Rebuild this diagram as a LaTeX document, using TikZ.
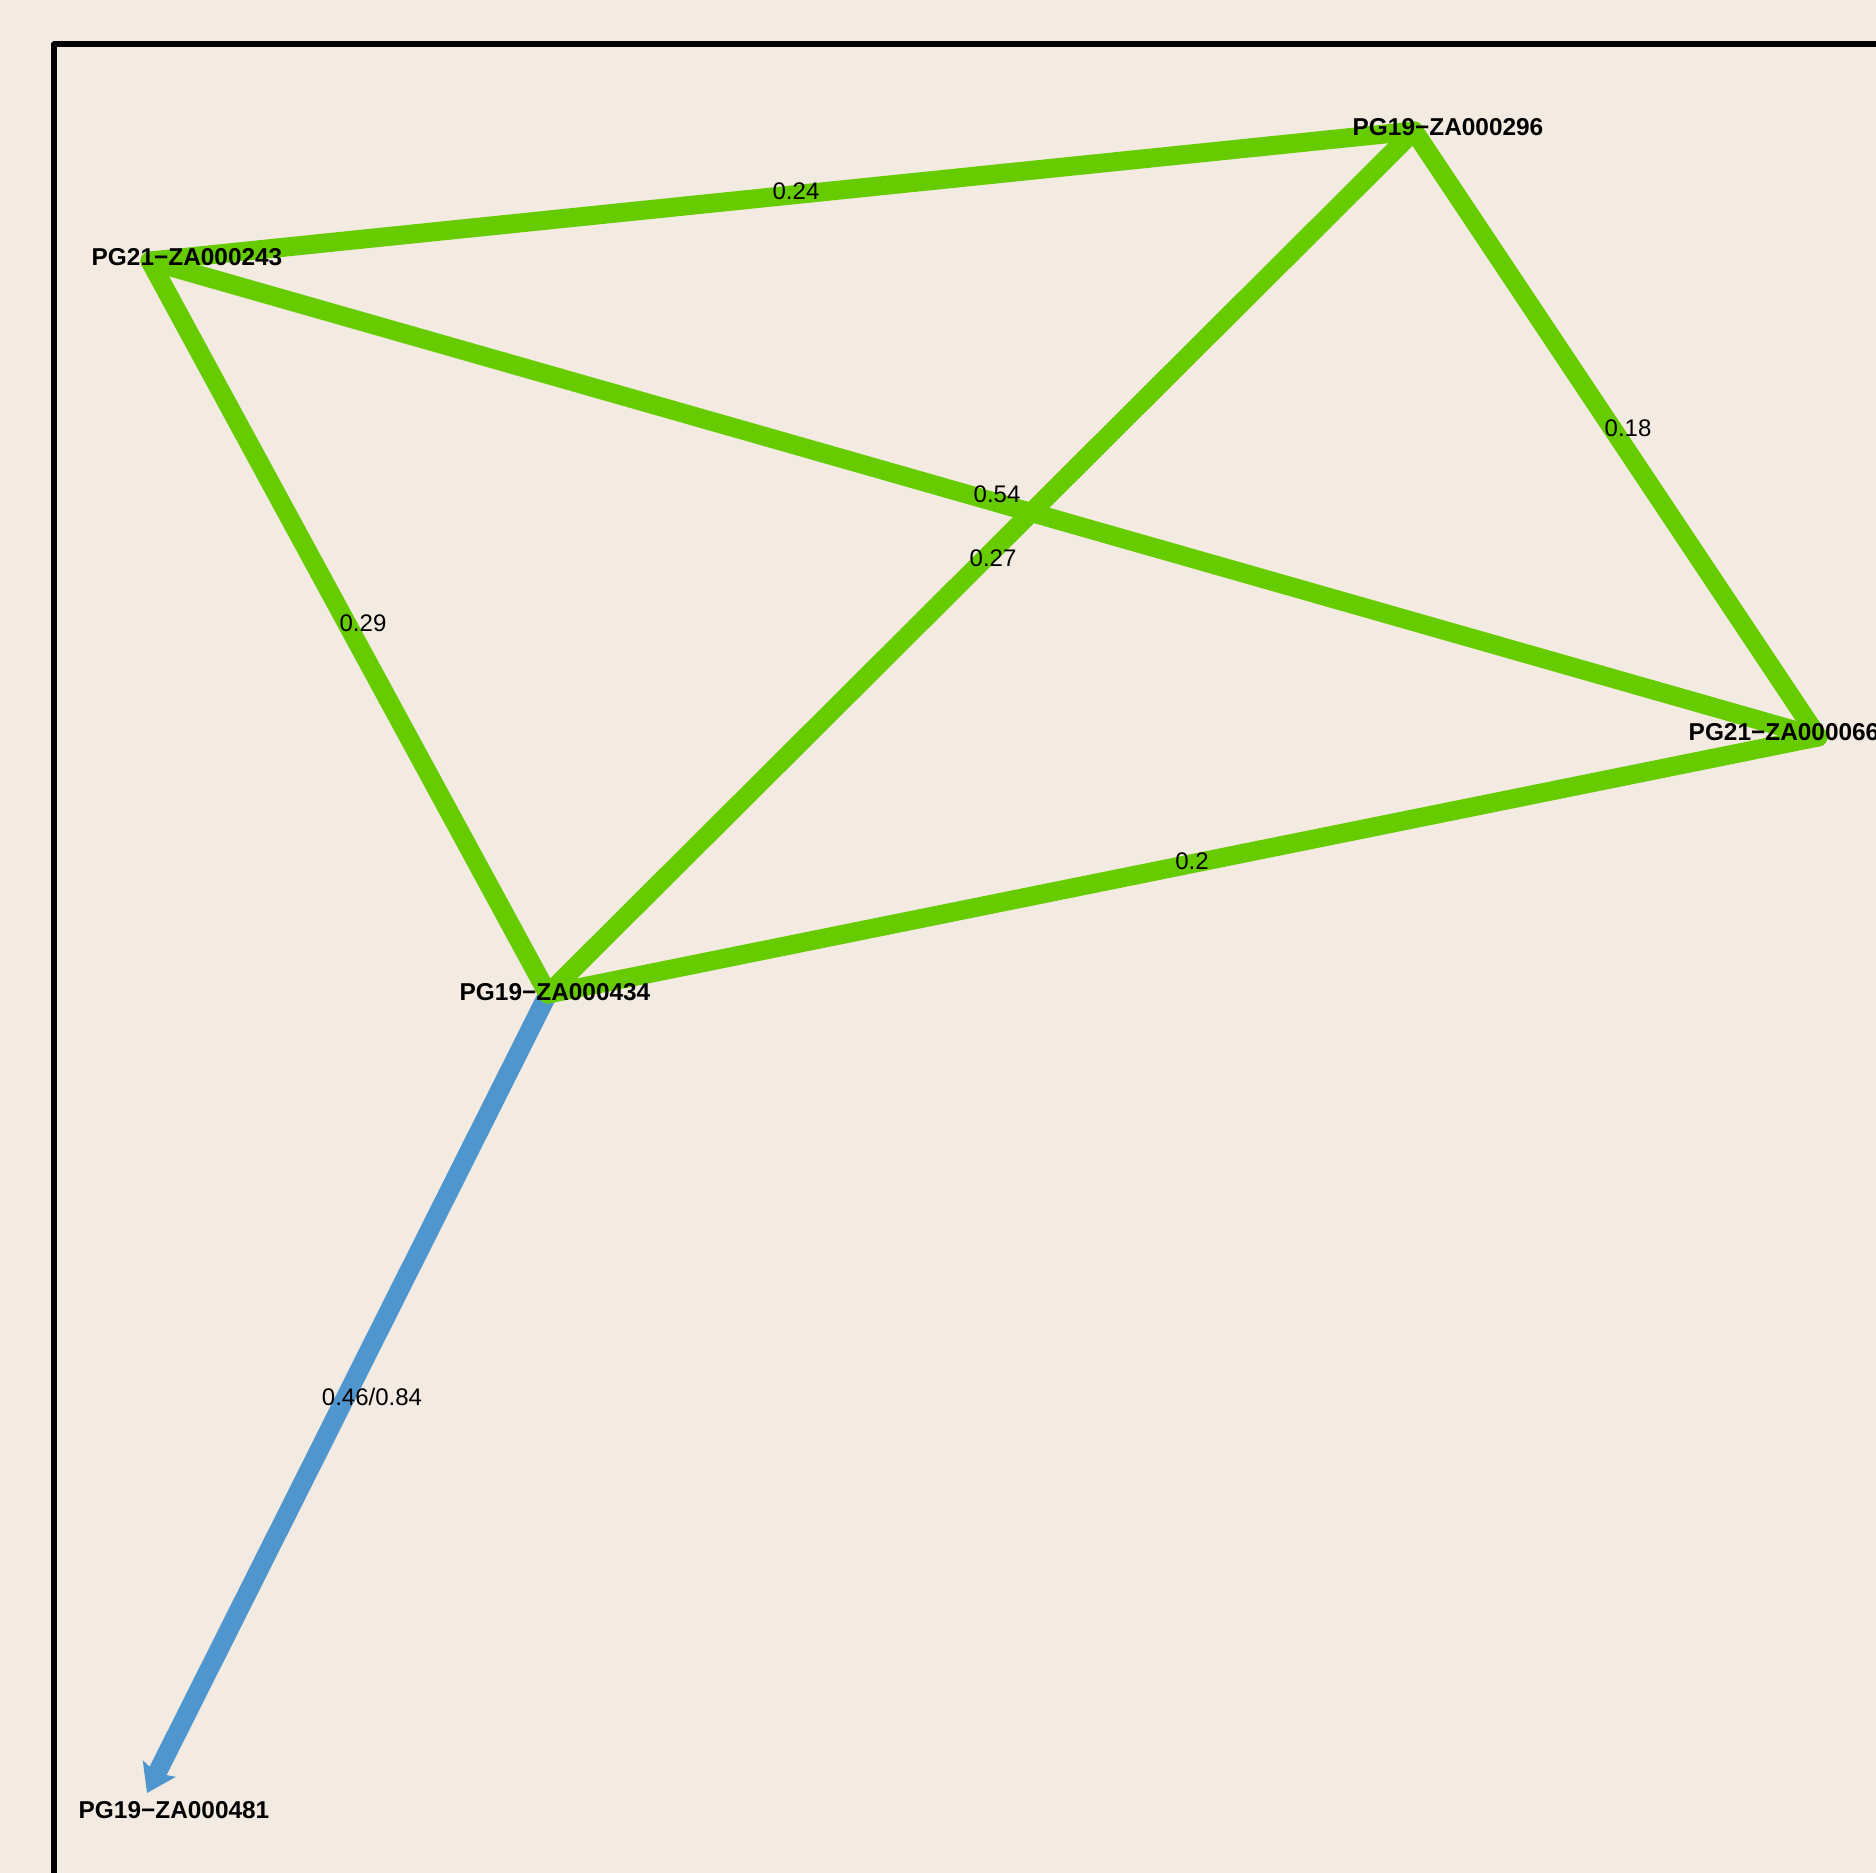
\documentclass[tikz,border=0pt]{standalone}
\usepackage{fontspec}
\setmainfont{Liberation Sans}
\usetikzlibrary{arrows.meta}
\definecolor{bgcol}{RGB}{243,235,225}
\definecolor{edgegreen}{RGB}{102,204,0}
\definecolor{edgeblue}{RGB}{79,150,207}
\begin{document}
\begin{tikzpicture}[x=1pt,y=-1pt,
  vlabel/.style={inner sep=0pt,font=\fontsize{24.4}{28}\selectfont\bfseries},
  elabel/.style={inner sep=0pt,font=\fontsize{24}{28}\selectfont},
  gedge/.style={draw=edgegreen,line width=19pt,line cap=round},
  bedge/.style={draw=edgeblue,line width=19pt,-{Stealth[length=27pt,width=36pt,inset=5pt]}}]
\fill[bgcol] (0,0) rectangle (1876,1873);
\useasboundingbox (0,0) rectangle (1876,1873);
\draw[line width=6pt,line join=round] (54,1873) -- (54,44.5) -- (1876,44.5);
% vertex points
\coordinate (v243) at (150,261);
\coordinate (v296) at (1414,131);
\coordinate (v066) at (1818,737);
\coordinate (v434) at (548,994);
\coordinate (v481) at (147,1793);
% edges
\draw[bedge] (v434) -- (v481);
\draw[gedge] (v243) -- (v296);
\draw[gedge] (v243) -- (v066);
\draw[gedge] (v243) -- (v434);
\draw[gedge] (v296) -- (v434);
\draw[gedge] (v296) -- (v066);
\draw[gedge] (v066) -- (v434);
% edge labels
\node[elabel] (l24) at (796,191) {0.24};
\node[elabel] (l18) at (1628,428) {0.18};
\node[elabel] (l54) at (997,494) {0.54};
\node[elabel] (l27) at (993,558) {0.27};
\node[elabel] (l29) at (363,623) {0.29};
\node[elabel] (l2) at (1192,861) {0.2};
\node[elabel] (l46) at (372,1397) {0.46/0.84};
% vertex labels
\node[vlabel] (n243) at (187,257) {PG21−ZA000243};
\node[vlabel] (n296) at (1448,127) {PG19−ZA000296};
\node[vlabel] (n066) at (1784,732) {PG21−ZA000066};
\node[vlabel] (n434) at (555,992) {PG19−ZA000434};
\node[vlabel] (n481) at (174,1810) {PG19−ZA000481};
\end{tikzpicture}
\end{document}
